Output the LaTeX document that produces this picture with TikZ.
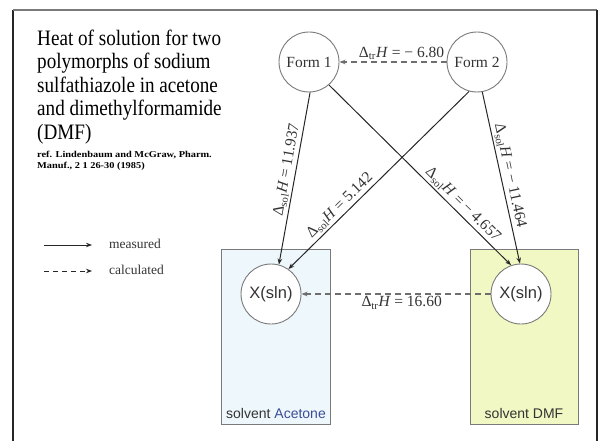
\documentclass[tikz,border=0pt]{standalone}
\usepackage{fontspec}
\setmainfont{Liberation Serif}
\setsansfont{Liberation Sans}
\newfontfamily\titlefont[FakeStretch=0.87]{Liberation Serif}
\newfontfamily\reffont[FakeStretch=1.15]{Liberation Serif}
\usetikzlibrary{arrows.meta}
\definecolor{boxblue}{HTML}{EEF7FB}
\definecolor{boxyellow}{HTML}{F1F8C4}
\definecolor{edgegray}{HTML}{7A7A7A}
\definecolor{inkdark}{HTML}{262626}
\definecolor{dashgray}{HTML}{6E6E6E}
\definecolor{acetoneblue}{HTML}{3B4D99}
\definecolor{textgray}{HTML}{333333}
\begin{document}
\begin{tikzpicture}[x=1pt,y=-1pt,
  state/.style={circle,draw=edgegray,line width=0.9pt,fill=white,minimum size=60pt,inner sep=0pt,text=textgray},
  solventbox/.style={draw=edgegray,line width=0.8pt,minimum height=175pt,inner sep=0pt},
  meas/.style={draw=inkdark,line width=1pt,-{Stealth[length=6pt,width=4.5pt]}},
  calc/.style={draw=dashgray,line width=1.1pt,dash pattern=on 6pt off 4pt,-{Stealth[length=6pt,width=4.5pt]}},
  lbl/.style={font=\fontsize{15.5}{17}\selectfont,inner sep=2pt,text=textgray},
  legendtext/.style={font=\fontsize{13.5}{15}\selectfont,text=textgray,inner sep=0pt,anchor=base west},
  boxlabel/.style={font=\sffamily\fontsize{14}{16}\selectfont,inner sep=0pt,anchor=base},
  frameline/.style={draw=inkdark,line width=2pt}
]
\useasboundingbox (0,0) rectangle (601,441);

% frame
\draw[frameline] (13,441) -- (13,10);
\draw[draw=edgegray,line width=1.2pt] (13,10) -- (597,10);
\draw[frameline,line width=1.6pt] (597,10) -- (597,441);

% title and reference
\node[anchor=north west,align=left,inner sep=0pt,font=\titlefont\fontsize{22}{23.5}\selectfont] (title) at (37,29.5)
  {Heat of solution for two\\polymorphs of sodium\\sulfathiazole in acetone\\and dimethylformamide\\(DMF)};
\node[anchor=north west,align=left,inner sep=0pt,font=\reffont\bfseries\fontsize{9}{11.5}\selectfont] (ref) at (37,150.5)
  {ref. Lindenbaum and McGraw, Pharm.\\Manuf., 2 1 26-30 (1985)};

% legend
\coordinate (m0) at (44,245);
\coordinate (m1) at (92,245);
\coordinate (c0) at (44,271);
\coordinate (c1) at (92,271);
\draw[meas] (m0) -- (m1);
\draw[calc,draw=inkdark,line width=1pt,dash pattern=on 5pt off 4pt] (c0) -- (c1);
\node[legendtext] (mt) at (109,248) {measured};
\node[legendtext] (ct) at (109,274) {calculated};

% solvent boxes
\node[solventbox,fill=boxblue,minimum width=109pt] (BA) at (275.5,336.5) {};
\node[solventbox,fill=boxyellow,minimum width=108pt] (BD) at (524,336.5) {};
\node[boxlabel] (LA) at (276,418) {\textcolor{textgray}{solvent}\ \textcolor{acetoneblue}{Acetone}};
\node[boxlabel,text=textgray] (LD) at (524,418) {solvent\ DMF};

% states
\node[state,font=\fontsize{15.5}{17}\selectfont] (F1) at (309,62) {Form 1};
\node[state,font=\fontsize{15.5}{17}\selectfont] (F2) at (477,62) {Form 2};
\node[state,font=\sffamily\fontsize{16.5}{19}\selectfont] (XL) at (271,294) {X(sln)};
\node[state,font=\sffamily\fontsize{16.5}{19}\selectfont] (XR) at (521,294) {X(sln)};

% measured transitions
\draw[meas] (F1.-88) -- node[lbl,sloped,above,pos=0.46] {Δ\textsubscript{sol}\textit{H} = 11.937} (XL.75);
\draw[meas] (F2.-105) -- node[lbl,sloped,above,pos=0.68] {Δ\textsubscript{sol}\textit{H} = 5.142} (XL.55);
\draw[meas] (F1.-49) -- node[lbl,sloped,above,pos=0.7] {Δ\textsubscript{sol}\textit{H} = − 4.657} (XR.109);
\draw[meas] (F2.-80) -- node[lbl,sloped,above,pos=0.5] {Δ\textsubscript{sol}\textit{H} = − 11.464} (XR.92);

% calculated transitions
\draw[calc] (F2.west) -- node[lbl,above,pos=0.42] {Δ\textsubscript{tr}\textit{H} = − 6.80} (F1.east);
\draw[calc] (XR.west) -- node[lbl,below,pos=0.47] {Δ\textsubscript{tr}\textit{H} = 16.60} (XL.east);
\end{tikzpicture}
\end{document}
